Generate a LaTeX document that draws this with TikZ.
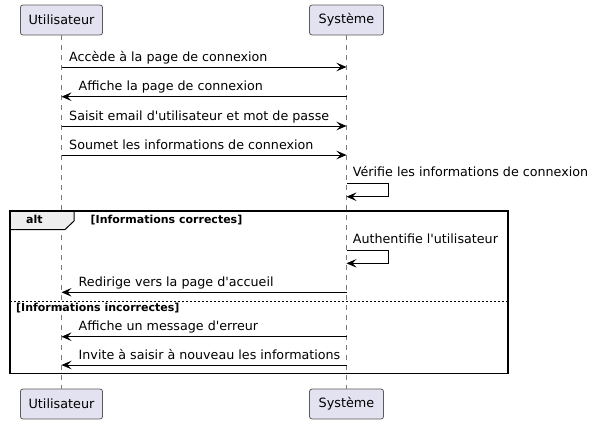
\documentclass[tikz,border=0pt]{standalone}
\usepackage{fontspec}
\setmainfont{DejaVu Sans}
\usetikzlibrary{arrows.meta}
\definecolor{partfill}{HTML}{E2E2F0}
\definecolor{partdraw}{HTML}{5A5A5A}
\definecolor{lifecol}{HTML}{7A7A7A}
\definecolor{tabfill}{HTML}{EEEEEE}
\newcommand{\apos}{\textquotesingle}
\tikzset{
  part/.style={draw=partdraw, fill=partfill, rounded corners=2.5pt, line width=0.8pt,
    minimum height=30pt, inner xsep=6pt, inner ysep=0pt, font=\fontsize{12.8}{15}\selectfont},
  lifeline/.style={draw=lifecol, dash pattern=on 5pt off 5pt, line width=0.8pt},
  msg/.style={draw=black, line width=0.9pt, -{Stealth[length=10pt,width=8.5pt,inset=4pt]}},
  msgtext/.style={anchor=base west, inner sep=0pt, font=\fontsize{12.7}{15}\selectfont},
  condtext/.style={anchor=base west, inner sep=0pt, font=\fontsize{11}{13}\selectfont\bfseries},
  frame/.style={draw=black, line width=1.5pt},
}
\begin{document}
\begin{tikzpicture}[x=1pt,y=-1pt]
\useasboundingbox (0,0) rectangle (594,424);
% participants
\node[part, minimum width=82pt] (uT) at (61.5,20) {Utilisateur};
\node[part, minimum width=74pt] (sT) at (346.5,20) {Système};
\node[part, minimum width=82pt] (uB) at (61.5,404) {Utilisateur};
\node[part, minimum width=74pt] (sB) at (346.5,404) {Système};
\draw[lifeline] (uT.south) -- (uB.north);
\draw[lifeline] (sT.south) -- (sB.north);
% alt frame
\draw[fill=tabfill, line width=1pt] (10,211) -- (74,211) -- (74,221) -- (65,229.5) -- (10,229.5) -- cycle;
\draw[frame] (10,211) rectangle (508,373.5);
\node[condtext] (altlbl) at (26,223) {alt};
\node[condtext] (c1) at (90.5,223) {[Informations correctes]};
\draw[black, line width=0.8pt, dash pattern=on 2pt off 2pt] (10,301.5) -- (508,301.5);
\node[condtext] (c2) at (16,311.5) {[Informations incorrectes]};
% messages
\draw[msg] (uT |- 0,67) -- (sT |- 0,67);
\node[msgtext] (m1) at (69,61.5) {Accède à la page de connexion};
\draw[msg] (sT |- 0,96.7) -- (uT |- 0,96.7);
\node[msgtext] (m2) at (78.5,90.7) {Affiche la page de connexion};
\draw[msg] (uT |- 0,126) -- (sT |- 0,126);
\node[msgtext] (m3) at (69,120.5) {Saisit email d\apos utilisateur et mot de passe};
\draw[msg] (uT |- 0,155) -- (sT |- 0,155);
\node[msgtext] (m4) at (69,149.5) {Soumet les informations de connexion};
% self message 1
\draw[msg] (sT |- 0,183.3) -- (388.7,183.3) -- (388.7,196.7) -- (sT |- 0,196.7);
\node[msgtext] (m5) at (352.7,176.7) {Vérifie les informations de connexion};
% self message 2
\draw[msg] (sT |- 0,250) -- (388.7,250) -- (388.7,263.3) -- (sT |- 0,263.3);
\node[msgtext] (m6) at (352.7,243.4) {Authentifie l\apos utilisateur};
\draw[msg] (sT |- 0,292.3) -- (uT |- 0,292.3);
\node[msgtext] (m7) at (78.5,286.3) {Redirige vers la page d\apos accueil};
\draw[msg] (sT |- 0,336.7) -- (uT |- 0,336.7);
\node[msgtext] (m8) at (78.5,330.7) {Affiche un message d\apos erreur};
\draw[msg] (sT |- 0,365) -- (uT |- 0,365);
\node[msgtext] (m9) at (78.5,359) {Invite à saisir à nouveau les informations};
\end{tikzpicture}
\end{document}
